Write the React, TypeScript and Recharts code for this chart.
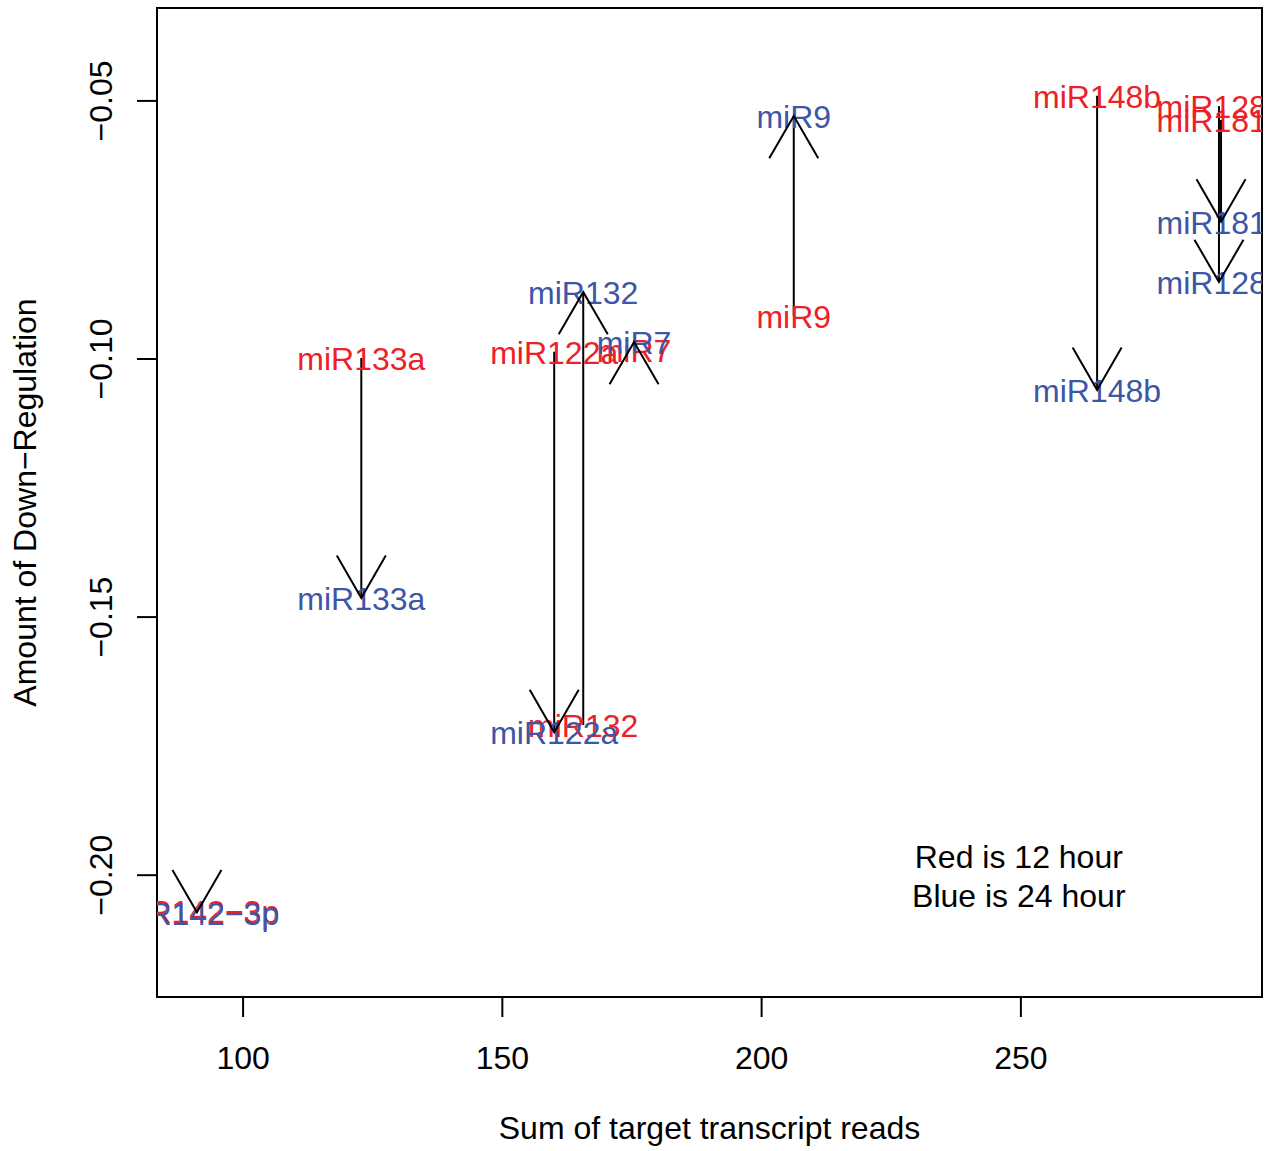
import React from "react";
import {
  ScatterChart,
  Scatter,
  XAxis,
  YAxis,
  ReferenceLine,
  ReferenceArea,
} from "recharts";

// arrows go from the 12 hour value (red) to the 24 hour value (blue)
const mirNames = ["miR142\u22123p", "miR133a", "miR122a", "miR132", "miR7", "miR9", "miR148b", "miR128", "miR181"];
const targetReads = [91.1, 122.8, 160.0, 165.6, 175.4, 206.2, 264.7, 288.2, 288.6];
// where the names sit on the x scale (the two at the right edge sit a bit left of their arrows)
const labelReads = [91.1, 122.8, 160.0, 165.6, 175.4, 206.2, 264.7, 286.8, 286.8];
const downReg12h = [-0.207, -0.0998, -0.0986, -0.1709, -0.0983, -0.0917, -0.049, -0.051, -0.0537];
const downReg24h = [-0.2072, -0.1463, -0.1723, -0.087, -0.0967, -0.0529, -0.106, -0.0851, -0.0734];

const xTicks = [100, 150, 200, 250];
const yTicks = [-0.2, -0.15, -0.1, -0.05];
const xDomain = [83.4, 296.5];
const yDomain = [-0.2236, -0.032];

const legendLines = ["Red is 12 hour", "Blue is 24 hour"];
const legendX = 249.6;
const legendY = [-0.1963, -0.2039];

const RED = "#EE2027";
const BLUE = "#3D56A6";
const FONT = "'Liberation Sans', Arial, Helvetica, sans-serif";
const FS = 32;

const minus = (s: string) => s.replace("-", "\u2212");

const redPts = mirNames.map((name, i) => ({ name, x: labelReads[i], y: downReg12h[i] }));
const bluePts = mirNames.map((name, i) => ({ name, x: labelReads[i], y: downReg24h[i] }));
const heads = mirNames.map((name, i) => ({
  name,
  x: targetReads[i],
  y: downReg24h[i],
  up: downReg24h[i] > downReg12h[i],
}));
const legendPts = legendLines.map((name, i) => ({ name, x: legendX, y: legendY[i] }));

const label = (color: string) => (p: any) => (
  <text
    x={p.cx}
    y={p.cy}
    dy="0.38em"
    textAnchor="middle"
    fill={color}
    fontFamily={FONT}
    fontSize={FS}
  >
    {p.payload.name}
  </text>
);

const arrowHead = (p: any) => {
  const dx = 24.5;
  const dy = p.payload.up ? 42.4 : -42.4;
  return (
    <path
      d={`M${p.cx - dx},${p.cy + dy} L${p.cx},${p.cy} L${p.cx + dx},${p.cy + dy}`}
      fill="none"
      stroke="#000"
      strokeWidth={2}
    />
  );
};

const XTick = (p: any) => (
  <text x={p.x} y={p.y + 40} dy="0.36em" textAnchor="middle" fontFamily={FONT} fontSize={FS} fill="#000">
    {p.payload.value}
  </text>
);

const YTick = (p: any) => {
  const x = p.x - 37;
  return (
    <text
      x={x}
      y={p.y}
      dy="0.36em"
      textAnchor="middle"
      transform={`rotate(-90 ${x} ${p.y})`}
      fontFamily={FONT}
      fontSize={FS}
      fill="#000"
    >
      {minus(Number(p.payload.value).toFixed(2))}
    </text>
  );
};

export default function App() {
  return (
    <div style={{ position: "absolute", left: 0, top: 0, background: "#fff" }}>
      <ScatterChart width={1267} height={1151} margin={{ top: 8, right: 5, left: 0, bottom: 0 }}>
        <XAxis
          type="number"
          dataKey="x"
          domain={xDomain}
          ticks={xTicks}
          allowDataOverflow
          height={154}
          axisLine={false}
          tickSize={20}
          tickMargin={0}
          tickLine={{ stroke: "#000", strokeWidth: 2 }}
          tick={<XTick />}
          label={{
            content: (lp: any) => (
              <text
                x={lp.viewBox.x + lp.viewBox.width / 2}
                y={lp.viewBox.y + 130}
                dy="0.36em"
                textAnchor="middle"
                fontFamily={FONT}
                fontSize={FS}
                fill="#000"
              >
                Sum of target transcript reads
              </text>
            ),
          }}
        />
        <YAxis
          type="number"
          dataKey="y"
          domain={yDomain}
          ticks={yTicks}
          allowDataOverflow
          width={157}
          axisLine={false}
          tickSize={20}
          tickMargin={0}
          tickLine={{ stroke: "#000", strokeWidth: 2 }}
          tick={<YTick />}
          label={{
            content: (lp: any) => {
              const cx = lp.viewBox.x + 24;
              const cy = lp.viewBox.y + lp.viewBox.height / 2;
              return (
                <text
                  x={cx}
                  y={cy}
                  dy="0.36em"
                  textAnchor="middle"
                  transform={`rotate(-90 ${cx} ${cy})`}
                  fontFamily={FONT}
                  fontSize={FS}
                  fill="#000"
                >
                  Amount of Down{"\u2212"}Regulation
                </text>
              );
            },
          }}
        />
        <Scatter data={redPts} shape={label(RED)} isAnimationActive={false} />
        <Scatter data={bluePts} shape={label(BLUE)} isAnimationActive={false} />
        <Scatter data={legendPts} shape={label("#000")} isAnimationActive={false} />
        {mirNames.map((name, i) => (
          <ReferenceLine
            key={name}
            segment={[
              { x: targetReads[i], y: downReg12h[i] },
              { x: targetReads[i], y: downReg24h[i] },
            ]}
            stroke="#000"
            strokeWidth={2}
            ifOverflow="visible"
          />
        ))}
        <Scatter data={heads} shape={arrowHead} isAnimationActive={false} />
        <ReferenceArea
          x1={xDomain[0]}
          x2={xDomain[1]}
          y1={yDomain[0]}
          y2={yDomain[1]}
          fill="none"
          fillOpacity={0}
          stroke="#000"
          strokeWidth={2}
          ifOverflow="visible"
        />
      </ScatterChart>
    </div>
  );
}
